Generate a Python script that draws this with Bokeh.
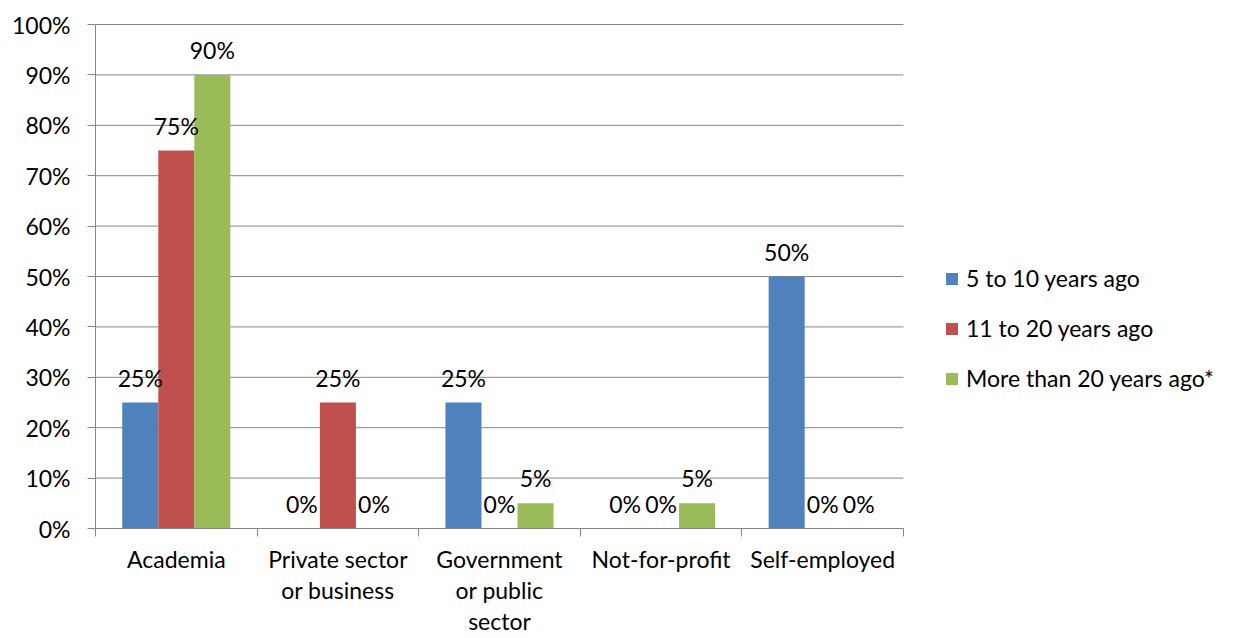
from bokeh.plotting import figure
from bokeh.models import (ColumnDataSource, Range1d, FixedTicker, NumeralTickFormatter,
                          Legend, LegendItem)
from bokeh.transform import dodge
from bokeh.core.properties import value
from bokeh.embed import file_html
from bokeh.resources import INLINE

categories = ["Academia", "Private sector\nor business", "Government\nor public\nsector",
              "Not-for-profit", "Self-employed"]
series_names = ["5 to 10 years ago", "11 to 20 years ago", "More than 20 years ago*"]
s_5_10 = [0.25, 0.00, 0.25, 0.00, 0.50]
s_11_20 = [0.75, 0.25, 0.00, 0.00, 0.00]
s_20_plus = [0.90, 0.00, 0.05, 0.05, 0.00]
y_ticks = [0.0, 0.1, 0.2, 0.3, 0.4, 0.5, 0.6, 0.7, 0.8, 0.9, 1.0]

colors = ["#4F81BD", "#C0504D", "#9BBB59"]
FONT = "Lato"
FS = "23px"
GRAY = "#868686"

n = len(categories)
W, H = 1235, 638
LEFT, TOP, BOTTOM_Y, PLOT_W = 95, 23, 528, 808
# frame spans to the right edge so that the legend lives inside it;
# the category area (0..n) covers PLOT_W pixels
x_end = n * (W - LEFT) / PLOT_W
y_end = 1.0 + 1.0 / (BOTTOM_Y - TOP - 1)

p = figure(width=W, height=H, output_backend="svg", toolbar_location=None,
           x_range=Range1d(0, x_end), y_range=Range1d(0, y_end),
           min_border_left=LEFT, min_border_right=0, min_border_top=TOP,
           min_border_bottom=H - BOTTOM_Y)
p.outline_line_color = None
p.background_fill_color = "white"
p.border_fill_color = "white"

# horizontal gridlines across the category area only
p.segment(x0=0, x1=n, y0=y_ticks, y1=y_ticks, line_color=GRAY, line_width=1)

xpos = [i + 0.5 for i in range(n)]
bw = 0.223
offsets = [-bw, 0.0, bw]
all_series = [s_5_10, s_11_20, s_20_plus]

items = []
for j, (vals, name, col) in enumerate(zip(all_series, series_names, colors)):
    src = ColumnDataSource(dict(x=xpos, top=vals))
    r = p.vbar(x=dodge("x", offsets[j], range=p.x_range), top="top", bottom=0, width=bw,
               source=src, fill_color=col, line_color=None)
    items.append(LegendItem(label=name, renderers=[r]))

for j, (vals, col) in enumerate(zip(all_series, colors)):
    src = ColumnDataSource(dict(x=xpos, top=vals,
                                lab=["%d%%" % round(v * 100) for v in vals]))
    p.text(x=dodge("x", offsets[j], range=p.x_range), y="top", text="lab", source=src,
           text_font=value(FONT), text_font_size=FS, text_color="black",
           text_align="center", text_baseline="middle", y_offset=-25)

# y axis
p.yaxis.ticker = FixedTicker(ticks=y_ticks)
p.yaxis.formatter = NumeralTickFormatter(format="0%")
p.yaxis.axis_line_color = GRAY
p.yaxis.major_tick_line_color = GRAY
p.yaxis.major_tick_out = 8
p.yaxis.major_tick_in = 0
p.yaxis.minor_tick_line_color = None
p.yaxis.major_label_standoff = 17
p.yaxis.major_label_text_font = FONT
p.yaxis.major_label_text_font_size = FS
p.yaxis.major_label_text_color = "black"
p.yaxis.bounds = (0, 1)

# x axis
p.xaxis.ticker = FixedTicker(ticks=xpos, minor_ticks=list(range(n + 1)))
p.xaxis.major_label_overrides = {x: c for x, c in zip(xpos, categories)}
p.xaxis.bounds = (0, n)
p.xaxis.axis_line_color = GRAY
p.xaxis.major_tick_line_color = None
p.xaxis.major_tick_out = 0
p.xaxis.major_tick_in = 0
p.xaxis.minor_tick_line_color = GRAY
p.xaxis.minor_tick_out = 8
p.xaxis.minor_tick_in = 0
p.xaxis.major_label_standoff = 8
p.xaxis.major_label_text_font = FONT
p.xaxis.major_label_text_font_size = FS
p.xaxis.major_label_text_color = "black"
p.xaxis.major_label_text_align = "center"
p.xaxis.major_label_text_line_height = 1.12

p.xgrid.grid_line_color = None
p.ygrid.grid_line_color = None

legend = Legend(items=items, location=(944 - LEFT, BOTTOM_Y - 392), orientation="vertical",
                glyph_width=15, glyph_height=15, label_standoff=7,
                label_height=26, spacing=22, padding=0, margin=0,
                border_line_color=None, background_fill_alpha=0,
                label_text_font=FONT, label_text_font_size=FS, label_text_color="black")
p.add_layout(legend, "center")

open("out.html", "w").write(file_html(p, INLINE))
